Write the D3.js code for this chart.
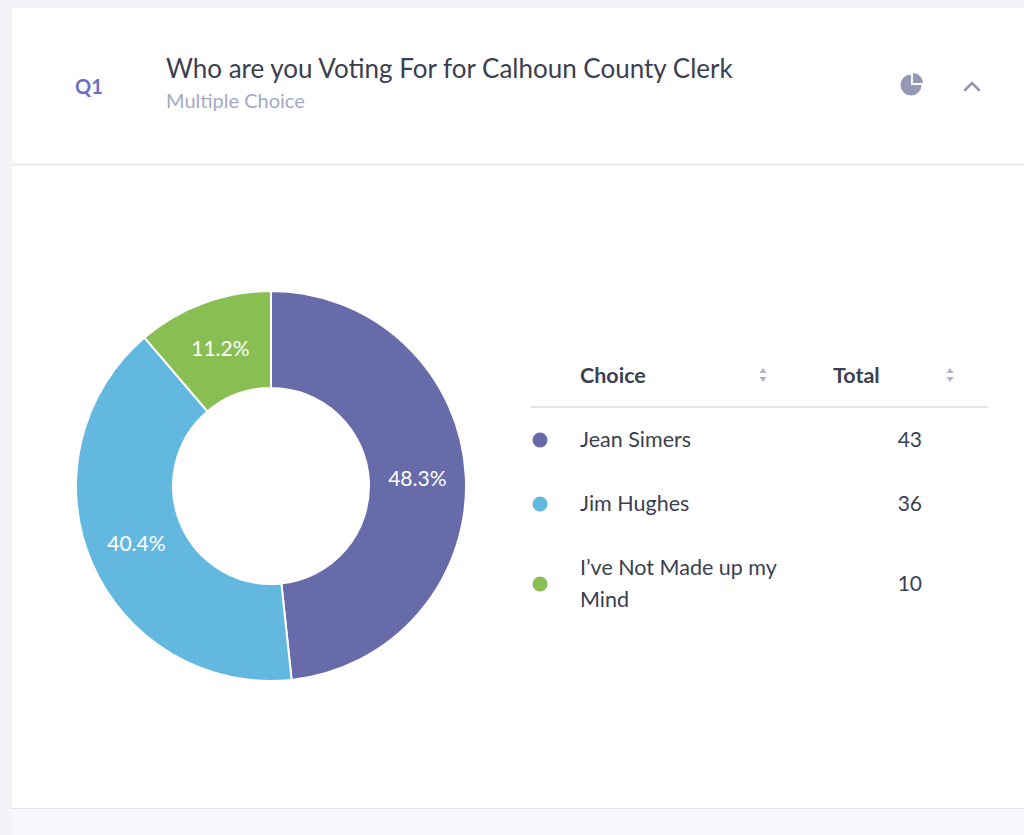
<!DOCTYPE html>
<html>
<head>
<meta charset="utf-8">
<script src="https://cdn.jsdelivr.net/npm/d3@7"></script>
<style>
  html, body { margin: 0; padding: 0; background: #f3f4f8; }
  svg { display: block; font-family: Lato, "Open Sans", sans-serif; }
</style>
</head>
<body>
<svg id="chart" width="1024" height="835"></svg>
<script>
const questionId = "Q1";
const questionTitle = "Who are you Voting For for Calhoun County Clerk";
const questionType = "Multiple Choice";
const choices = ["Jean Simers", "Jim Hughes", "I\u2019ve Not Made up my Mind"];
const totals = [43, 36, 10];
const sliceColors = ["#676baa", "#63b8e0", "#88be52"];
const columnNames = ["Choice", "Total"];

const svg = d3.select("#chart");

// card
svg.append("rect").attr("x", 12).attr("y", 8).attr("width", 1030).attr("height", 800).attr("fill", "#fff");
svg.append("rect").attr("x", 12).attr("y", 808).attr("width", 1030).attr("height", 30).attr("fill", "#f7f8fb");
svg.append("line").attr("x1", 12).attr("x2", 1024).attr("y1", 808.5).attr("y2", 808.5).attr("stroke", "#e3e5ed");
svg.append("line").attr("x1", 12).attr("x2", 1024).attr("y1", 164.5).attr("y2", 164.5).attr("stroke", "#e1e3ea").attr("stroke-width", 1.5);

// header
svg.append("text").attr("x", 75).attr("y", 94).text(questionId)
    .style("font-size", "20px").style("font-weight", "700").style("fill", "#6b6fc4");
svg.append("text").attr("x", 166).attr("y", 78).text(questionTitle)
    .style("font-size", "26px").style("fill", "#3b3f50");
svg.append("text").attr("x", 166).attr("y", 108).text(questionType)
    .style("font-size", "20px").style("fill", "#a5a9c4");

// pie icon
const icon = svg.append("g").attr("transform", "translate(911,85)");
icon.append("path")
    .attr("d", d3.arc().innerRadius(0).outerRadius(10.5)({ startAngle: Math.PI / 2, endAngle: 2 * Math.PI }))
    .attr("fill", "#9599b6");
icon.append("path")
    .attr("transform", "translate(2,-2)")
    .attr("d", d3.arc().innerRadius(0).outerRadius(10)({ startAngle: 0, endAngle: Math.PI / 2 }))
    .attr("fill", "#9599b6");
// chevron
svg.append("path").attr("d", "M965,90 L972,83 L979,90")
    .attr("fill", "none").attr("stroke", "#9599b6").attr("stroke-width", 2.6).attr("stroke-linecap", "round").attr("stroke-linejoin", "round");

// donut
const cx = 271, cy = 486;
const outerR = 195, innerR = 98;
const total = d3.sum(totals);
const pieData = d3.pie().sort(null).value(d => d.value)(choices.map((c, i) => ({ name: c, value: totals[i], color: sliceColors[i] })));
const arc = d3.arc().innerRadius(innerR).outerRadius(outerR);
const donut = svg.append("g").attr("transform", `translate(${cx},${cy})`);

donut.selectAll(".slice")
    .data(pieData)
    .enter()
    .append("path")
    .attr("class", "slice")
    .attr("d", arc)
    .attr("fill", d => d.data.color)
    .attr("stroke", "#fff")
    .attr("stroke-width", 2);

donut.selectAll(".slice-label")
    .data(pieData)
    .enter()
    .append("text")
    .attr("class", "slice-label")
    .attr("transform", d => `translate(${arc.centroid(d)})`)
    .attr("text-anchor", "middle")
    .attr("dy", "0.35em")
    .style("font-size", "21px")
    .style("fill", "#fff")
    .text(d => (d.value / total * 100).toFixed(1) + "%");

// table
const tbl = svg.append("g");
const colX = [580, 833];
tbl.selectAll(".col-head")
    .data(columnNames)
    .enter()
    .append("text")
    .attr("class", "col-head")
    .attr("x", (d, i) => colX[i])
    .attr("y", 383)
    .text(d => d)
    .style("font-size", "21.5px").style("font-weight", "700").style("fill", "#3b3f50");

[763, 950].forEach(x => {
    svg.append("path").attr("d", `M${x - 3.5},${373} L${x},${368} L${x + 3.5},${373} Z`).attr("fill", "#aeb2c8");
    svg.append("path").attr("d", `M${x - 3.5},${377} L${x},${382} L${x + 3.5},${377} Z`).attr("fill", "#aeb2c8");
});
svg.append("line").attr("x1", 531).attr("x2", 988).attr("y1", 407).attr("y2", 407)
    .attr("stroke", "#e3e4ea").attr("stroke-width", 2);

const rowY = [440, 504, 584];
const rows = tbl.selectAll(".row")
    .data(choices.map((c, i) => ({ name: c, value: totals[i], color: sliceColors[i], y: rowY[i] })))
    .enter()
    .append("g")
    .attr("class", "row");

rows.append("circle").attr("cx", 540).attr("cy", d => d.y).attr("r", 7.5).attr("fill", d => d.color);

rows.append("text")
    .attr("x", 580)
    .attr("y", d => d.y + 7)
    .style("font-size", "21.5px").style("fill", "#3b3f50")
    .each(function (d) {
        const t = d3.select(this);
        if (d.name.length > 20) {
            const words = d.name.split(" ");
            t.attr("y", d.y - 9);
            t.append("tspan").attr("x", 580).text(words.slice(0, 5).join(" "));
            t.append("tspan").attr("x", 580).attr("dy", 32).text(words.slice(5).join(" "));
        } else {
            t.text(d.name);
        }
    });

rows.append("text")
    .attr("x", 922)
    .attr("y", d => d.y + 7)
    .attr("text-anchor", "end")
    .style("font-size", "21px").style("fill", "#3b3f50")
    .text(d => d.value);
</script>
</body>
</html>
